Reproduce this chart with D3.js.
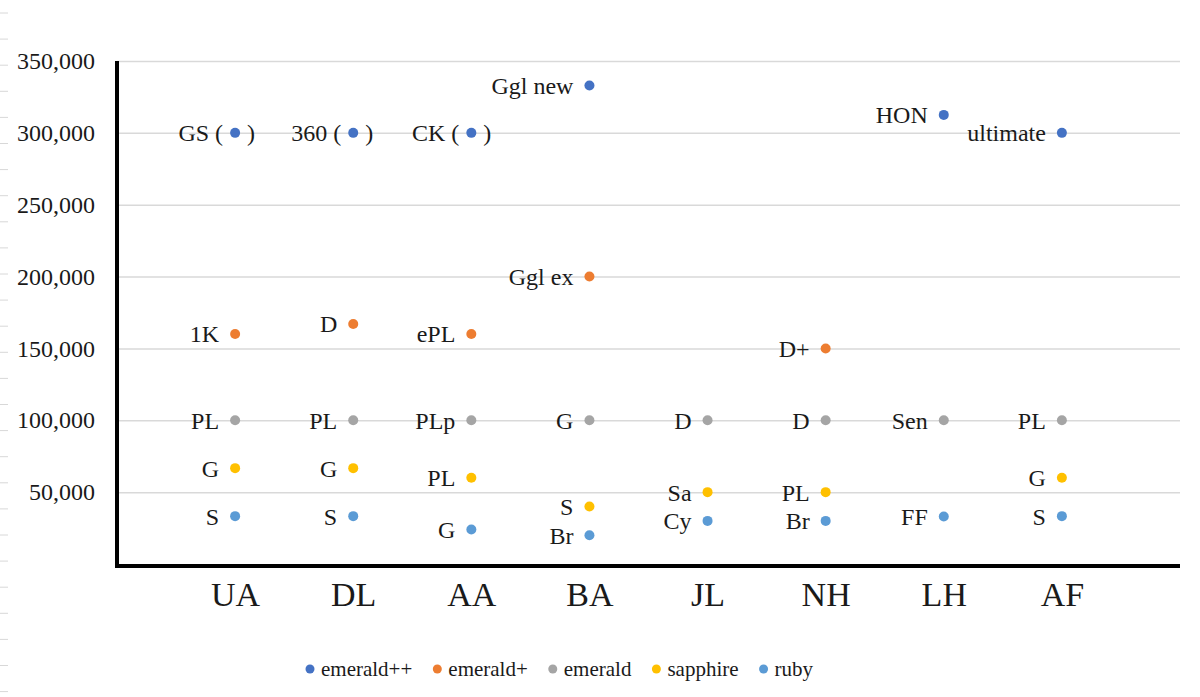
<!DOCTYPE html>
<html>
<head>
<meta charset="utf-8">
<script src="https://cdn.jsdelivr.net/npm/d3@7"></script>
</head>
<body style="margin:0">
<script>
// categories on the x axis
var categories = ["UA", "DL", "AA", "BA", "JL", "NH", "LH", "AF"];

// one array of values per tier (null = no point)
var emeraldPP = [300000, 300000, 300000, 333000, null, null, 312500, 300000];
var emeraldP  = [160000, 167000, 160000, 200000, null, 150000, null, null];
var emerald   = [100000, 100000, 100000, 100000, 100000, 100000, 100000, 100000];
var sapphire  = [66700, 66700, 60000, 40000, 50000, 50000, null, 60000];
var ruby      = [33300, 33300, 24000, 20000, 30000, 30000, 33000, 33300];

// data labels, "()" means the dot sits inside the brackets
var emeraldPPLabels = ["GS ()", "360 ()", "CK ()", "Ggl new", null, null, "HON", "ultimate"];
var emeraldPLabels  = ["1K", "D", "ePL", "Ggl ex", null, "D+", null, null];
var emeraldLabels   = ["PL", "PL", "PLp", "G", "D", "D", "Sen", "PL"];
var sapphireLabels  = ["G", "G", "PL", "S", "Sa", "PL", null, "G"];
var rubyLabels      = ["S", "S", "G", "Br", "Cy", "Br", "FF", "S"];

var seriesNames = ["emerald++", "emerald+", "emerald", "sapphire", "ruby"];
var seriesColors = ["#4472C4", "#ED7D31", "#A5A5A5", "#FFC000", "#5B9BD5"];
var yTicks = [50000, 100000, 150000, 200000, 250000, 300000, 350000];

var series = [
  {name: seriesNames[0], values: emeraldPP, labels: emeraldPPLabels},
  {name: seriesNames[1], values: emeraldP, labels: emeraldPLabels},
  {name: seriesNames[2], values: emerald, labels: emeraldLabels},
  {name: seriesNames[3], values: sapphire, labels: sapphireLabels},
  {name: seriesNames[4], values: ruby, labels: rubyLabels}
];

var FONT = "'Liberation Serif', monospace";
var TXT = "#1a1a1a";

var W = 1200, H = 697;
var plotLeft = 117, plotRight = 1180, plotTop = 61, plotBottom = 564;

var svg = d3.select("body")
  .append("svg")
  .attr("width", W)
  .attr("height", H);

// faint ruler marks along the left edge of the picture
svg.selectAll(".ruler")
  .data(d3.range(0, 27))
  .enter()
  .append("line")
  .attr("x1", 0).attr("x2", 8)
  .attr("y1", function(d) { return 13 + d * 26.1; })
  .attr("y2", function(d) { return 13 + d * 26.1; })
  .attr("stroke", "#d8d8d8")
  .attr("stroke-width", 1);

var x = d3.scaleLinear()
  .domain([0, categories.length + 1])
  .range([plotLeft, plotRight]);

var y = d3.scaleLinear()
  .domain([0, 350000])
  .range([plotBottom, plotTop]);

// gridlines
svg.append("g")
  .attr("transform", "translate(" + plotLeft + ",0)")
  .call(d3.axisLeft(y).tickValues(yTicks).tickSize(-(plotRight - plotLeft)).tickFormat(""))
  .call(function(g) {
    g.select(".domain").remove();
    g.selectAll(".tick line").attr("stroke", "#d9d9d9").attr("stroke-width", 1.5);
  });

// y tick labels
var yLabels = svg.append("g")
  .attr("transform", "translate(" + plotLeft + ",0)")
  .call(d3.axisLeft(y).tickValues(yTicks).tickSize(0).tickPadding(22).tickFormat(d3.format(",")));
yLabels.select(".domain").remove();
yLabels.selectAll(".tick text")
  .attr("font-size", 24)
  .attr("fill", TXT)
  .style("font-family", FONT);

// x category labels
var xLabels = svg.append("g")
  .attr("transform", "translate(0," + plotBottom + ")")
  .call(d3.axisBottom(x)
    .tickValues(d3.range(1, categories.length + 1))
    .tickSize(0)
    .tickPadding(18)
    .tickFormat(function(d) { return categories[d - 1]; }));
xLabels.select(".domain").remove();
xLabels.selectAll(".tick text")
  .attr("font-size", 34)
  .attr("fill", TXT)
  .style("font-family", FONT);

// thick axis lines
svg.append("line")
  .attr("x1", plotLeft).attr("x2", plotLeft)
  .attr("y1", plotTop).attr("y2", plotBottom + 3)
  .attr("stroke", "#000").attr("stroke-width", 4);
svg.append("line")
  .attr("x1", plotLeft - 2).attr("x2", plotRight)
  .attr("y1", plotBottom + 2).attr("y2", plotBottom + 2)
  .attr("stroke", "#000").attr("stroke-width", 4);

// points and labels
series.forEach(function(s, si) {
  var pts = [];
  s.values.forEach(function(v, i) {
    if (v != null) pts.push({i: i, v: v, label: s.labels[i]});
  });
  var g = svg.append("g");

  g.selectAll("text.lbl")
    .data(pts.filter(function(d) { return d.label; }))
    .enter()
    .append("text")
    .attr("class", "lbl")
    .attr("x", function(d) {
      return x(d.i + 1) - (d.label.slice(-2) == "()" ? 12 : 16);
    })
    .attr("y", function(d) { return y(d.v); })
    .attr("dy", "0.35em")
    .attr("text-anchor", "end")
    .attr("font-size", 24)
    .attr("fill", TXT)
    .style("font-family", FONT)
    .text(function(d) {
      return d.label.slice(-2) == "()" ? d.label.slice(0, -1) : d.label;
    });

  g.selectAll("text.close")
    .data(pts.filter(function(d) { return d.label && d.label.slice(-2) == "()"; }))
    .enter()
    .append("text")
    .attr("class", "close")
    .attr("x", function(d) { return x(d.i + 1) + 12; })
    .attr("y", function(d) { return y(d.v); })
    .attr("dy", "0.35em")
    .attr("font-size", 24)
    .attr("fill", TXT)
    .style("font-family", FONT)
    .text(")");

  g.selectAll("circle")
    .data(pts)
    .enter()
    .append("circle")
    .attr("cx", function(d) { return x(d.i + 1); })
    .attr("cy", function(d) { return y(d.v); })
    .attr("r", 5)
    .attr("fill", seriesColors[si]);
});

// legend
var legend = svg.append("g");
var lx = 310, ly = 669;
seriesNames.forEach(function(name, i) {
  legend.append("circle")
    .attr("cx", lx).attr("cy", ly)
    .attr("r", 4.5)
    .attr("fill", seriesColors[i]);
  var t = legend.append("text")
    .attr("x", lx + 11)
    .attr("y", ly)
    .attr("dy", "0.35em")
    .attr("font-size", 21)
    .attr("fill", TXT)
    .style("font-family", FONT)
    .text(name);
  lx += 11 + t.node().getComputedTextLength() + 25;
});
</script>
</body>
</html>
